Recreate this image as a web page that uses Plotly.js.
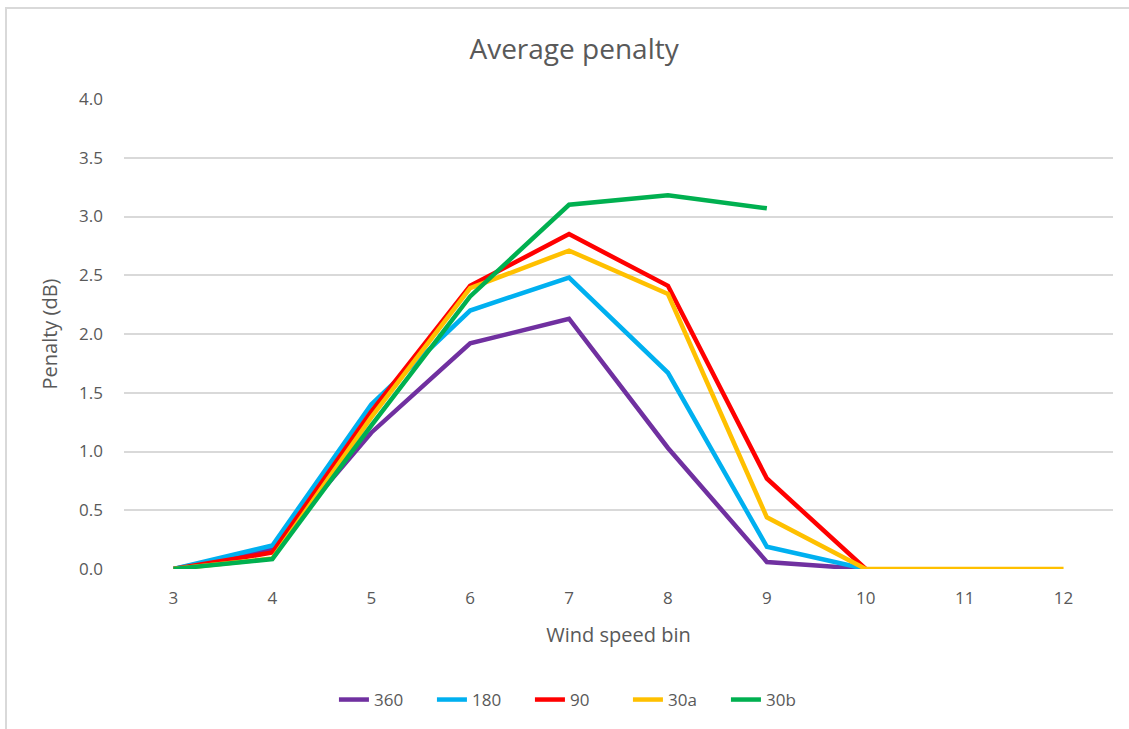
<!DOCTYPE html>
<html>
<head>
<meta charset="utf-8">
<script src="https://cdn.plot.ly/plotly-3.0.1.min.js"></script>
<style>
  html, body { margin: 0; padding: 0; background: #ffffff; overflow: hidden; }
  #chart { width: 1129px; height: 729px; }
  #frame { position: absolute; left: 5px; top: 7px; width: 1300px; height: 900px;
           border: 2px solid #d9d9d9; pointer-events: none; }
</style>
</head>
<body>
<div id="chart"></div>
<div id="frame"></div>
<script>
const categories = ['3', '4', '5', '6', '7', '8', '9', '10', '11', '12'];
const s360 = [0.0, 0.17, 1.16, 1.92, 2.13, 1.03, 0.06, 0.0, null, null];
const s180 = [0.0, 0.20, 1.40, 2.20, 2.48, 1.67, 0.19, 0.0, null, null];
const s90  = [0.0, 0.14, 1.34, 2.41, 2.85, 2.41, 0.77, 0.0, null, null];
const s30a = [0.0, 0.09, 1.29, 2.39, 2.71, 2.34, 0.44, 0.0, 0.0, 0.0];
const s30b = [0.0, 0.085, 1.22, 2.32, 3.10, 3.18, 3.07, null, null, null];
const seriesNames = ['360', '180', '90', '30a', '30b'];
const seriesColors = ['#7030A0', '#00B0F0', '#FF0000', '#FFC000', '#00B050'];
const seriesValues = [s360, s180, s90, s30a, s30b];
const yTicks = [0, 0.5, 1, 1.5, 2, 2.5, 3, 3.5, 4];

const FONT = '"Open Sans", Lato, "Liberation Sans", sans-serif';
const GREY = '#595959';

const traces = seriesValues.map((vals, i) => ({
  type: 'scatter',
  mode: 'lines',
  x: categories,
  y: vals,
  name: seriesNames[i],
  line: { color: seriesColors[i], width: 4.5, shape: 'linear' },
  connectgaps: false,
  hoverinfo: 'x+y+name'
}));

const layout = {
  width: 1129,
  height: 729,
  paper_bgcolor: '#ffffff',
  plot_bgcolor: '#ffffff',
  margin: { l: 124, r: 16, t: 99, b: 159 },
  font: { family: FONT, color: GREY, size: 16 },
  title: {
    text: 'Average penalty',
    font: { family: FONT, size: 28, color: GREY },
    x: 0.5085, xanchor: 'center', xref: 'container',
    y: 1 - 49 / 729, yanchor: 'middle', yref: 'container'
  },
  xaxis: {
    type: 'category',
    categoryorder: 'array',
    categoryarray: categories,
    range: [-0.5, 9.5],
    showgrid: false,
    zeroline: false,
    showline: false,
    ticks: '',
    ticklabelstandoff: 17,
    tickfont: { family: FONT, size: 17, color: GREY },
    title: { text: 'Wind speed bin', font: { family: FONT, size: 20, color: GREY }, standoff: 19 }
  },
  yaxis: {
    range: [0, 4],
    tickvals: yTicks,
    tickformat: '.1f',
    showgrid: true,
    gridcolor: '#d9d9d9',
    gridwidth: 1.5,
    zeroline: false,
    showline: false,
    ticks: '',
    ticklabelstandoff: 20,
    tickfont: { family: FONT, size: 17, color: GREY },
    title: { text: 'Penalty (dB)', font: { family: FONT, size: 20, color: GREY }, standoff: 16 }
  },
  showlegend: true,
  legend: {
    orientation: 'h',
    x: 0.460, xanchor: 'center',
    y: -0.276, yanchor: 'middle',
    entrywidth: 53,
    entrywidthmode: 'pixels',
    font: { family: FONT, size: 17, color: GREY },
    bgcolor: 'rgba(0,0,0,0)'
  }
};

Plotly.newPlot('chart', traces, layout, { displayModeBar: false });
</script>
</body>
</html>
